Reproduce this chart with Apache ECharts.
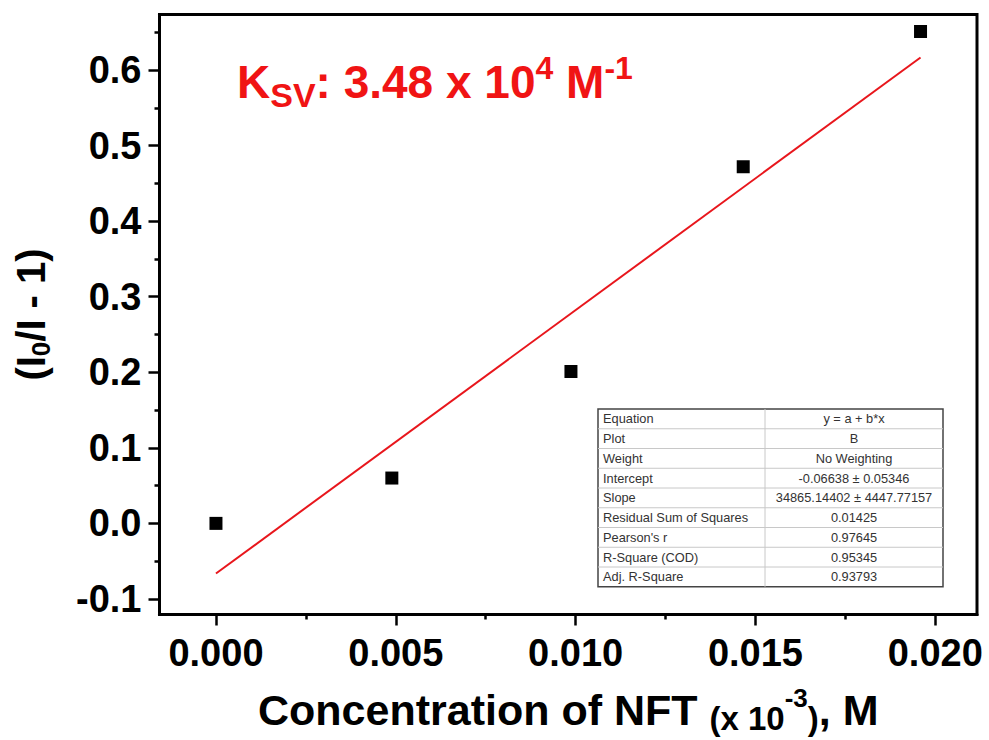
<!DOCTYPE html>
<html>
<head>
<meta charset="utf-8">
<script src="https://cdn.jsdelivr.net/npm/echarts@6/dist/echarts.min.js"></script>
<style>
  html, body { margin: 0; padding: 0; background: #fff; }
  #chart { width: 989px; height: 740px; }
</style>
</head>
<body>
<div id="chart"></div>
<script>
var conc = [0.0, 0.00489, 0.00987, 0.01466, 0.01959];
var ratio = [0.0, 0.060, 0.201, 0.472, 0.651];

// linear fit from the Origin report, slope is per M
var intercept = -0.06638;
var slope = 34865.14402;
var xScale = 1e-3;

var xTicks = [0.000, 0.005, 0.010, 0.015, 0.020];
var xMinor = [0.0025, 0.0075, 0.0125, 0.0175];
var yTicks = [-0.1, 0.0, 0.1, 0.2, 0.3, 0.4, 0.5, 0.6];
var yMinor = [-0.05, 0.05, 0.15, 0.25, 0.35, 0.45, 0.55, 0.65];

var fitRows = ['Equation', 'Plot', 'Weight', 'Intercept', 'Slope',
  'Residual Sum of Squares', "Pearson's r", 'R-Square (COD)', 'Adj. R-Square'];
var fitVals = ['y = a + b*x', 'B', 'No Weighting', '-0.06638 \u00b1 0.05346',
  '34865.14402 \u00b1 4447.77157', '0.01425', '0.97645', '0.95345', '0.93793'];

var chart = echarts.init(document.getElementById('chart'), null, {renderer: 'svg'});

// fit line, from the first to the last concentration
var fitLine = [conc[0], conc[conc.length - 1]].map(function(x) {
  return [x, intercept + slope * x * xScale];
});

var font = '"Liberation Sans", Arial, sans-serif';

// fit report table
function buildTable() {
  var left = 598, top = 409, width = 345, rowH = 19.75, split = 765;
  var els = [];
  var height = rowH * fitRows.length;
  els.push({
    type: 'rect', shape: {x: left, y: top, width: width, height: height},
    style: {fill: '#fff', stroke: '#444', lineWidth: 1.5}
  });
  for (var i = 1; i < fitRows.length; i++) {
    els.push({
      type: 'line',
      shape: {x1: left, y1: top + i * rowH, x2: left + width, y2: top + i * rowH},
      style: {stroke: '#c8c8c8', lineWidth: 1}
    });
  }
  els.push({
    type: 'line', shape: {x1: split, y1: top, x2: split, y2: top + height},
    style: {stroke: '#c8c8c8', lineWidth: 1}
  });
  fitRows.forEach(function(name, i) {
    els.push({
      type: 'text', x: left + 5, y: top + i * rowH + rowH / 2,
      style: {text: name, fill: '#333', font: '12.8px ' + font, verticalAlign: 'middle'}
    });
    els.push({
      type: 'text', x: (split + left + width) / 2, y: top + i * rowH + rowH / 2,
      style: {text: fitVals[i], fill: '#333', font: '12.8px ' + font,
        align: 'center', verticalAlign: 'middle'}
    });
  });
  return els;
}

var option = {
  animation: false,
  grid: {
    left: 159.5, top: 14.5, right: 12, bottom: 125.5, outerBoundsMode: 'none',
    show: true, borderColor: '#000', borderWidth: 3, backgroundColor: '#fff'
  },
  xAxis: [{
    type: 'value', min: -0.00157, max: 0.02116,
    name: '{a|Concentration of NFT }{b|(x 10}{c|-3}{b|)}{a|, M}',
    nameLocation: 'middle', nameGap: 70,
    nameTextStyle: {
      rich: {
        a: {fontSize: 43, fontWeight: 'bold', fontFamily: font, color: '#000', lineHeight: 50},
        b: {fontSize: 33, fontWeight: 'bold', fontFamily: font, color: '#000',
          lineHeight: 40, verticalAlign: 'bottom'},
        c: {fontSize: 26, fontWeight: 'bold', fontFamily: font, color: '#000',
          lineHeight: 28, verticalAlign: 'top'}
      }
    },
    axisLine: {show: true, onZero: false, lineStyle: {color: '#000', width: 3}},
    axisTick: {show: true, length: 11, lineStyle: {width: 2.5, color: '#000'}, customValues: xTicks},
    axisLabel: {
      customValues: xTicks, margin: 19,
      fontSize: 38, fontWeight: 'bold', fontFamily: font, color: '#000',
      formatter: function(v) { return v.toFixed(3); }
    },
    splitLine: {show: false}
  }, {
    type: 'value', min: -0.00157, max: 0.02116, position: 'bottom',
    axisLine: {show: false, onZero: false},
    axisTick: {show: true, length: 5, lineStyle: {width: 2.5, color: '#000'}, customValues: xMinor},
    axisLabel: {show: false},
    splitLine: {show: false}
  }],
  yAxis: [{
    type: 'value', min: -0.1206, max: 0.6735,
    name: '{a|(I}{s|0}{a|/I - 1)}',
    nameLocation: 'middle', nameGap: 106,
    nameTextStyle: {
      rich: {
        a: {fontSize: 40, fontWeight: 'bold', fontFamily: font, color: '#000', lineHeight: 46},
        s: {fontSize: 26, fontWeight: 'bold', fontFamily: font, color: '#000',
          lineHeight: 26, verticalAlign: 'bottom'}
      }
    },
    axisLine: {show: true, onZero: false, lineStyle: {color: '#000', width: 3}},
    axisTick: {show: true, length: 11, lineStyle: {width: 2.5, color: '#000'}, customValues: yTicks},
    axisLabel: {
      customValues: yTicks, margin: 18,
      fontSize: 38, fontWeight: 'bold', fontFamily: font, color: '#000',
      formatter: function(v) { return v.toFixed(1); }
    },
    splitLine: {show: false}
  }, {
    type: 'value', min: -0.1206, max: 0.6735, position: 'left',
    axisLine: {show: false, onZero: false},
    axisTick: {show: true, length: 5, lineStyle: {width: 2.5, color: '#000'}, customValues: yMinor},
    axisLabel: {show: false},
    splitLine: {show: false}
  }],
  series: [{
    type: 'line',
    data: fitLine,
    showSymbol: false,
    lineStyle: {color: '#e8161c', width: 2},
    z: 2
  }, {
    type: 'scatter',
    data: conc.map(function(x, i) { return [x, ratio[i]]; }),
    symbol: 'rect',
    symbolSize: 13,
    itemStyle: {color: '#000', opacity: 1},
    z: 3
  }],
  graphic: [{
    type: 'text', x: 237, y: 52,
    style: {
      text: '{a|K}{sub|SV}{a|: 3.48 x 10}{sup|4}{a| M}{sup|-1}',
      rich: {
        a: {fontSize: 46, fontWeight: 'bold', fontFamily: font, fill: '#f01414', lineHeight: 60},
        sub: {fontSize: 34, fontWeight: 'bold', fontFamily: font, fill: '#f01414',
          lineHeight: 34, verticalAlign: 'bottom'},
        sup: {fontSize: 32, fontWeight: 'bold', fontFamily: font, fill: '#f01414',
          lineHeight: 52, verticalAlign: 'top'}
      }
    },
    z: 10
  }].concat(buildTable())
};

chart.setOption(option);
</script>
</body>
</html>
